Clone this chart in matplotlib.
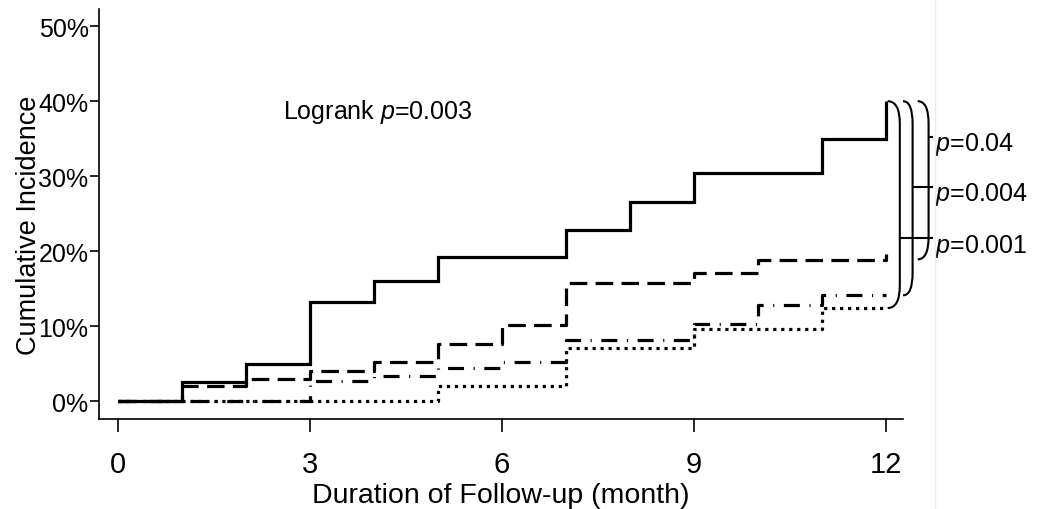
import matplotlib
matplotlib.use("Agg")
import matplotlib.pyplot as plt
from matplotlib.path import Path
from matplotlib.patches import PathPatch
from matplotlib.lines import Line2D

plt.rcParams['font.family'] = ['Liberation Sans', 'DejaVu Sans']
plt.rcParams['mathtext.fontset'] = 'custom'
plt.rcParams['mathtext.rm'] = 'Liberation Sans'
plt.rcParams['mathtext.it'] = 'Liberation Sans:italic'

# ---- data (cumulative incidence, %) ----
months = [0, 1, 2, 3, 4, 5, 6, 7, 8, 9, 10, 11, 12]
solid_vals    = [0, 2.5, 4.9, 13.2, 16.0, 19.2, 19.2, 22.8, 26.5, 30.4, 30.4, 35.0, 40.0]
dashed_vals   = [0, 2.0, 2.9, 4.0, 5.2, 7.6, 10.1, 15.7, 15.7, 17.1, 18.8, 18.8, 19.6]
dashdot_vals  = [0, 0, 0, 2.7, 3.3, 4.4, 5.2, 8.1, 8.1, 10.3, 12.8, 14.1, 14.1]
dotted_vals   = [0, 0, 0, 0, 0, 2.0, 2.0, 7.1, 7.1, 9.6, 9.6, 12.4, 12.4]

x_ticks = [0, 3, 6, 9, 12]
y_ticks = [0, 10, 20, 30, 40, 50]
y_tick_labels = ['0%', '10%', '20%', '30%', '40%', '50%']
logrank_text = r'Logrank $\mathit{p}$=0.003'
pair_labels = [r'$\mathit{p}$=0.04', r'$\mathit{p}$=0.004', r'$\mathit{p}$=0.001']

fig = plt.figure(figsize=(10.44, 5.10), dpi=100)
ax = fig.add_axes([99/1044, 1 - 420/510, (903 - 99)/1044, (420 - 10)/510])

lw = 2.3
ax.plot(months, dotted_vals, drawstyle='steps-post', color='black', lw=lw,
        linestyle=(0, (1.0, 1.5)), dash_capstyle='butt')
ax.plot(months, dashdot_vals, drawstyle='steps-post', color='black', lw=lw,
        linestyle=(0, (5.0, 3.0, 0.35, 3.0)), dash_capstyle='butt')
ax.plot(months, dashed_vals, drawstyle='steps-post', color='black', lw=lw,
        linestyle=(0, (5.5, 2.6)), dash_capstyle='butt')
ax.plot(months, solid_vals, drawstyle='steps-post', color='black', lw=lw,
        solid_joinstyle='miter', solid_capstyle='butt')

ax.set_xlim(-0.3, 12.27)
ax.set_ylim(-2.4, 52.3)
ax.set_xticks(x_ticks)
ax.set_xticklabels([str(t) for t in x_ticks], fontsize=21)
ax.set_yticks(y_ticks)
ax.set_yticklabels(y_tick_labels, fontsize=18)
ax.tick_params(axis='x', direction='out', length=9, width=1.2, pad=13)
ax.tick_params(axis='y', direction='out', length=6.5, width=1.2, pad=1)
for s in ['top', 'right']:
    ax.spines[s].set_visible(False)
for s in ['left', 'bottom']:
    ax.spines[s].set_linewidth(1.2)

ax.set_xlabel('Duration of Follow-up (month)', fontsize=20.5, labelpad=3)
ax.set_ylabel('Cumulative Incidence', fontsize=19.5)
ax.yaxis.set_label_coords(-0.071, 0.476)

ax.text(2.58, 38.7, logrank_text, fontsize=18, ha='left', va='center')

# ---- pairwise comparison brackets ----
top = solid_vals[-1]
bottoms = [dotted_vals[-1], dashdot_vals[-1], dashed_vals[-1] - 0.7]
x_starts = [12.03, 12.27, 12.50]
x_verts = [12.22, 12.42, 12.67]
tick_ys = [21.7, 28.5, 35.2]
r = 3.0
for xs, xv, yb in zip(x_starts, x_verts, bottoms):
    verts = [(xs, top), (xv, top), (xv, top - r),
             (xv, yb + r), (xv, yb), (xs, yb)]
    codes = [Path.MOVETO, Path.CURVE3, Path.CURVE3,
             Path.LINETO, Path.CURVE3, Path.CURVE3]
    ax.add_patch(PathPatch(Path(verts, codes), fill=False, lw=1.5,
                           edgecolor='black', clip_on=False))
for xv, ty in zip(x_verts, tick_ys):
    ax.add_line(Line2D([xv, 12.72], [ty, ty], color='black', lw=1.5, clip_on=False))

label_ys = [34.3, 27.7, 20.7]
for lab, ly in zip(pair_labels, label_ys):
    ax.text(12.77, ly, lab, fontsize=18, ha='left', va='center', clip_on=False)

# faint border line at right
fig.add_artist(Line2D([935/1044, 935/1044], [0, 1], color='#ececec', lw=1,
                      transform=fig.transFigure))

fig.savefig('out.png', dpi=100)
